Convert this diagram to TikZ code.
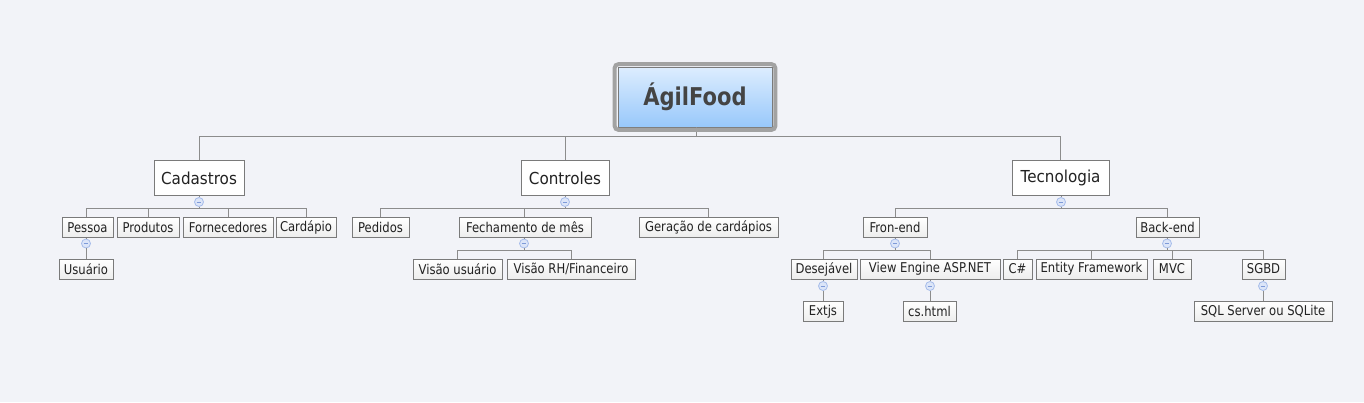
\documentclass[tikz,border=0pt]{standalone}
\usepackage{fontspec}
\setmainfont{DejaVu Sans}
\newfontfamily\condfont{DejaVu Sans}[FakeStretch=0.86]
\newfontfamily\mainfontc{DejaVu Sans}[FakeStretch=0.92]
\usetikzlibrary{calc}
\definecolor{bg}{HTML}{F2F3F8}
\definecolor{linecol}{HTML}{8C8C8C}
\definecolor{boxline}{HTML}{7A7A7A}
\definecolor{txt}{HTML}{222222}
\definecolor{roottxt}{HTML}{444444}
\definecolor{rtop}{HTML}{DDEDFE}
\definecolor{rbot}{HTML}{98C8FB}
\definecolor{ringcol}{HTML}{A2A2A2}
\definecolor{colfill}{HTML}{DCE5F8}
\definecolor{colline}{HTML}{A6BCEA}
\definecolor{minuscol}{HTML}{7E9AD8}
\definecolor{childbot}{HTML}{EDEDED}
\tikzset{
  mainbox/.style={draw=boxline, fill=white, line width=1pt, inner sep=0pt, text=txt,
    minimum height=35pt, font=\mainfontc\fontsize{16.5pt}{19pt}\selectfont},
  childbox/.style={draw=boxline, top color=white, bottom color=childbot, line width=1pt,
    inner sep=0pt, text=txt, font=\condfont\fontsize{13.5pt}{15pt}\selectfont},
  rootbox/.style={draw=boxline, top color=rtop, bottom color=rbot, line width=0.8pt,
    inner sep=0pt, text=roottxt, font=\condfont\fontsize{24.5pt}{28pt}\selectfont\bfseries},
  ring/.style={draw=ringcol, line width=4pt, rounded corners=4pt},
  conn/.style={draw=linecol, line width=1pt},
  collapse/.style={circle, draw=colline, fill=colfill, line width=0.8pt, minimum size=9pt, inner sep=0pt,
    path picture={\draw[minuscol, line width=0.8pt]
      ([xshift=-2.3pt]path picture bounding box.center) -- ([xshift=2.3pt]path picture bounding box.center);}},
}
\begin{document}
\begin{tikzpicture}[x=1pt,y=-1pt]
\useasboundingbox[fill=bg] (0,0) rectangle (1364,402);

% root
\node[rootbox, minimum width=154pt, minimum height=60pt] (root) at (695,97) {ÁgilFood};

% main branches
\node[mainbox, minimum width=90pt] (cad) at (199,178) {Cadastros};
\node[mainbox, minimum width=88pt] (ctl) at (565,178) {Controles};
\node[mainbox, minimum width=97pt] (tec) at (1060.5,178) {Tecnologia};

% row 2
\begin{scope}[every node/.style={childbox, minimum height=19.5pt}]
\node[minimum width=51pt]  (pessoa)   at (87.5,227.5) {Pessoa};
\node[minimum width=62pt]  (produtos) at (148,227.5) {Produtos};
\node[minimum width=90pt]  (fornec)   at (228,227.5) {Fornecedores};
\node[minimum width=60pt]  (cardapio) at (306,227.5) {Cardápio};
\node[minimum width=57pt]  (pedidos)  at (380.5,227.5) {Pedidos};
\node[minimum width=132pt] (fech)     at (525,227.5) {Fechamento de mês};
\node[minimum width=139pt] (geracao)  at (708.5,227.5) {Geração de cardápios};
\node[minimum width=64pt]  (fron)     at (895,227.5) {Fron-end};
\node[minimum width=63pt]  (back)     at (1167.5,227.5) {Back-end};
\end{scope}

% row 3
\begin{scope}[every node/.style={childbox, minimum height=20pt}]
\node[minimum width=54pt]  (usuario) at (86,269) {Usuário};
\node[minimum width=89pt]  (visaou)  at (457.5,269) {Visão usuário};
\node[minimum width=128pt] (visaorh) at (571,269) {Visão RH/Financeiro};
\node[minimum width=66pt]  (desej)   at (824,269) {Desejável};
\node[minimum width=140pt] (viewe)   at (930,269) {View Engine ASP.NET};
\node[minimum width=29pt]  (csharp)  at (1017.5,269) {C\#};
\node[minimum width=111pt] (entity)  at (1091.5,269) {Entity Framework};
\node[minimum width=38pt]  (mvc)     at (1172,269) {MVC};
\node[minimum width=43pt]  (sgbd)    at (1263.5,269) {SGBD};
\end{scope}

% row 4
\begin{scope}[every node/.style={childbox, minimum height=20.5pt}]
\node[minimum width=40pt]  (extjs)  at (823,311.5) {Extjs};
\node[minimum width=53pt]  (cshtml) at (929.5,311.5) {cs.html};
\node[minimum width=138pt] (sql)    at (1263,311.5) {SQL Server ou SQLite};
\end{scope}

% collapse markers
\node[collapse] (cadc)    at (199,202) {};
\node[collapse] (ctlc)    at (565,202) {};
\node[collapse] (tecc)    at (1061,202) {};
\node[collapse] (pessoac) at (86,243.5) {};
\node[collapse] (fechc)   at (524,243.5) {};
\node[collapse] (fronc)   at (895,243.5) {};
\node[collapse] (backc)   at (1167,243.5) {};
\node[collapse] (desejc)  at (823,286) {};
\node[collapse] (viewec)  at (930,286) {};
\node[collapse] (sgbdc)   at (1263,286) {};

% bar coordinates
\coordinate (rootbar) at (696,136);
\coordinate (cadbar) at (199,208.5);
\coordinate (ctlbar) at (565,208.5);
\coordinate (tecbar) at (1061,208.5);
\coordinate (fechbar) at (524,250.5);
\coordinate (fronbar) at (895,250.5);
\coordinate (backbar) at (1167,250.5);

% connectors
\draw[conn] (root.south -| rootbar) -- (rootbar);
\draw[conn] (rootbar) -| (cad.north);
\draw[conn] (rootbar) -| (ctl.north);
\draw[conn] (rootbar) -| (tec.north);

\draw[conn] (cad.south) -- (cadc.north);
\draw[conn] (cadc.south) -- (cadbar);
\draw[conn] (cadbar) -| (pessoa.north -| pessoac);
\draw[conn] (cadbar) -| (produtos.north);
\draw[conn] (cadbar) -| (fornec.north);
\draw[conn] (cadbar) -| (cardapio.north);

\draw[conn] (ctl.south) -- (ctlc.north);
\draw[conn] (ctlc.south) -- (ctlbar);
\draw[conn] (ctlbar) -| (pedidos.north);
\draw[conn] (ctlbar) -| (fech.north -| fechc);
\draw[conn] (ctlbar) -| (geracao.north);

\draw[conn] (tec.south -| tecc) -- (tecc.north);
\draw[conn] (tecc.south) -- (tecbar);
\draw[conn] (tecbar) -| (fron.north);
\draw[conn] (tecbar) -| (back.north -| backc);

\draw[conn] (pessoa.south -| pessoac) -- (pessoac.north);
\draw[conn] (pessoac.south) -- (usuario.north -| pessoac);

\draw[conn] (fech.south -| fechc) -- (fechc.north);
\draw[conn] (fechc.south) -- (fechbar);
\draw[conn] (fechbar) -| (visaou.north);
\draw[conn] (fechbar) -| (visaorh.north);

\draw[conn] (fron.south) -- (fronc.north);
\draw[conn] (fronc.south) -- (fronbar);
\draw[conn] (fronbar) -| (desej.north -| desejc);
\draw[conn] (fronbar) -| (viewe.north);

\draw[conn] (back.south -| backc) -- (backc.north);
\draw[conn] (backc.south) -- (backbar);
\draw[conn] (backbar) -| (csharp.north);
\draw[conn] (backbar) -| (entity.north);
\draw[conn] (backbar) -| (mvc.north);
\draw[conn] (backbar) -| (sgbd.north -| sgbdc);

\draw[conn] (desej.south -| desejc) -- (desejc.north);
\draw[conn] (desejc.south) -- (extjs.north -| desejc);
\draw[conn] (viewe.south) -- (viewec.north);
\draw[conn] (viewec.south) -- (cshtml.north -| viewec);
\draw[conn] (sgbd.south -| sgbdc) -- (sgbdc.north);
\draw[conn] (sgbdc.south) -- (sql.north);

% root frame
\draw[ring] ([shift={(-3,-2.5)}]root.north west) rectangle ([shift={(3,2.5)}]root.south east);
\end{tikzpicture}
\end{document}
